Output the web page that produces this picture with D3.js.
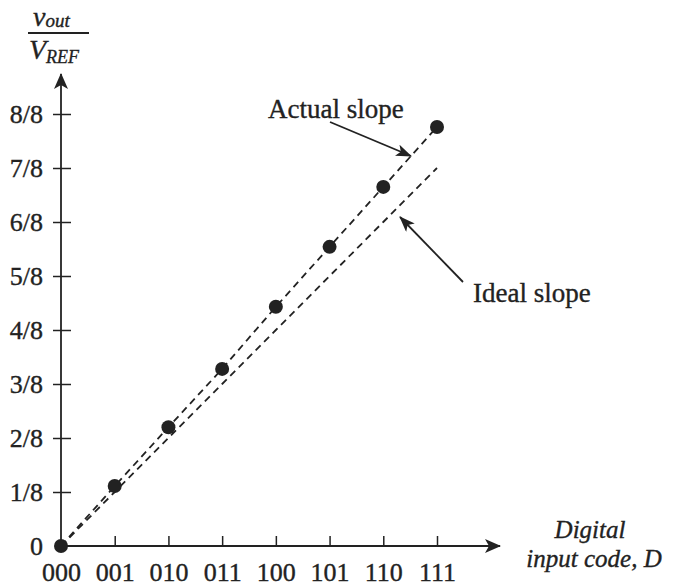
<!DOCTYPE html>
<html>
<head>
<meta charset="utf-8">
<script src="https://cdn.jsdelivr.net/npm/d3@7"></script>
<style>
  body { margin: 0; background: #fff; }
  svg text { font-family: 'Liberation Serif', 'DejaVu Serif', serif; fill: #222; stroke: #222; stroke-width: 0.35; }
</style>
</head>
<body>
<div id="box1"><svg id="box1_svg"></svg></div>
<script>
"use strict";

// digital input codes (x axis)
const codes = ['000', '001', '010', '011', '100', '101', '110', '111'];

// y tick labels, in eighths of V_REF
const y_ticks = ['0', '1/8', '2/8', '3/8', '4/8', '5/8', '6/8', '7/8', '8/8'];

// measured output, in eighths (dots)
const actual_values = [0, 1.11, 2.2, 3.28, 4.43, 5.54, 6.65, 7.76];

// ideal output, in eighths
const ideal_values = [0, 1, 2, 3, 4, 5, 6, 7];

const width = 678, height = 586;
const ink = '#222';

const svg = d3.select('#box1_svg')
  .attr('width', width)
  .attr('height', height);

const x = d3.scaleLinear().domain([0, codes.length - 1]).range([61, 437]);
const y = d3.scaleLinear().domain([0, y_ticks.length - 1]).range([546, 114]);

// arrow heads
const defs = svg.append('defs');

defs.append('marker')
  .attr('id', 'head')
  .attr('viewBox', '0 0 16 12')
  .attr('refX', 15)
  .attr('refY', 6)
  .attr('markerWidth', 16)
  .attr('markerHeight', 12)
  .attr('markerUnits', 'userSpaceOnUse')
  .attr('orient', 'auto')
  .append('path')
  .attr('d', 'M0,0 L16,6 L0,12 L4,6 Z')
  .attr('fill', ink);

defs.append('marker')
  .attr('id', 'big_head')
  .attr('viewBox', '0 0 16 14')
  .attr('refX', 15)
  .attr('refY', 7)
  .attr('markerWidth', 16)
  .attr('markerHeight', 14)
  .attr('markerUnits', 'userSpaceOnUse')
  .attr('orient', 'auto')
  .append('path')
  .attr('d', 'M0,0 L16,7 L0,14 L4,7 Z')
  .attr('fill', ink);

// axis lines with arrows
svg.append('line')
  .attr('x1', x(0)).attr('y1', y(0))
  .attr('x2', x(0)).attr('y2', 74)
  .attr('stroke', ink).attr('stroke-width', 1.8)
  .attr('marker-end', 'url(#big_head)');

svg.append('line')
  .attr('x1', x(0)).attr('y1', y(0))
  .attr('x2', 500).attr('y2', y(0))
  .attr('stroke', ink).attr('stroke-width', 1.8)
  .attr('marker-end', 'url(#big_head)');

// y axis ticks
const y_axis = svg.append('g')
  .attr('transform', `translate(${x(0)},0)`)
  .call(d3.axisLeft(y)
    .tickValues(d3.range(y_ticks.length))
    .tickFormat(i => y_ticks[i])
    .tickSize(8)
    .tickPadding(10));
y_axis.select('.domain').remove();
y_axis.selectAll('.tick line')
  .attr('x1', 10)
  .attr('stroke', ink)
  .attr('stroke-width', 1.5)
  .filter(d => d === 0).remove();
y_axis.selectAll('.tick text')
  .attr('font-size', 26)
  .attr('font-family', null)
  .attr('fill', ink);

// x axis ticks
const x_axis = svg.append('g')
  .attr('transform', `translate(0,${y(0)})`)
  .call(d3.axisBottom(x)
    .tickValues(d3.range(codes.length))
    .tickFormat(i => codes[i])
    .tickSize(-10)
    .tickPadding(17));
x_axis.select('.domain').remove();
x_axis.selectAll('.tick line')
  .attr('stroke', ink)
  .attr('stroke-width', 1.5)
  .filter(d => d === 0).remove();
x_axis.selectAll('.tick text')
  .attr('font-size', 26)
  .attr('font-family', null)
  .attr('fill', ink);

// dashed lines
const line = d3.line().x((d, i) => x(i)).y(d => y(d));

svg.append('path')
  .datum(ideal_values)
  .attr('d', line)
  .attr('fill', 'none')
  .attr('stroke', ink)
  .attr('stroke-width', 1.8)
  .attr('stroke-dasharray', '7,5');

svg.append('path')
  .datum(actual_values)
  .attr('d', line)
  .attr('fill', 'none')
  .attr('stroke', ink)
  .attr('stroke-width', 1.8)
  .attr('stroke-dasharray', '7,5');

// dots
svg.selectAll('circle.dot')
  .data(actual_values)
  .join('circle')
  .attr('class', 'dot')
  .attr('cx', (d, i) => x(i))
  .attr('cy', d => y(d))
  .attr('r', 7)
  .attr('fill', ink);

// annotations
svg.append('text')
  .text('Actual slope')
  .attr('x', 268).attr('y', 118)
  .attr('font-size', 27);
svg.append('line')
  .attr('x1', 330).attr('y1', 122)
  .attr('x2', 411).attr('y2', 156)
  .attr('stroke', ink).attr('stroke-width', 1.8)
  .attr('marker-end', 'url(#head)');

svg.append('text')
  .text('Ideal slope')
  .attr('x', 473).attr('y', 302)
  .attr('font-size', 27);
svg.append('line')
  .attr('x1', 463).attr('y1', 282)
  .attr('x2', 400).attr('y2', 217)
  .attr('stroke', ink).attr('stroke-width', 1.8)
  .attr('marker-end', 'url(#head)');

// y axis label as fraction
const y_lab = svg.append('g').attr('font-style', 'italic');
y_lab.append('text')
  .attr('x', 33).attr('y', 26)
  .attr('font-size', 28)
  .call(t => t.append('tspan').text('v'))
  .call(t => t.append('tspan').text('out').attr('font-size', 19).attr('dy', 1));
svg.append('line')
  .attr('x1', 28).attr('y1', 33)
  .attr('x2', 89).attr('y2', 33)
  .attr('stroke', ink).attr('stroke-width', 2);
y_lab.append('text')
  .attr('x', 29).attr('y', 59)
  .attr('font-size', 28)
  .call(t => t.append('tspan').text('V'))
  .call(t => t.append('tspan').text('REF').attr('font-size', 18).attr('dy', 4));

// x axis label
svg.append('text')
  .text('Digital')
  .attr('x', 590).attr('y', 538)
  .attr('text-anchor', 'middle')
  .attr('font-style', 'italic')
  .attr('font-size', 25);
svg.append('text')
  .text('input code, D')
  .attr('x', 594).attr('y', 567)
  .attr('text-anchor', 'middle')
  .attr('font-style', 'italic')
  .attr('font-size', 25);
</script>
</body>
</html>
